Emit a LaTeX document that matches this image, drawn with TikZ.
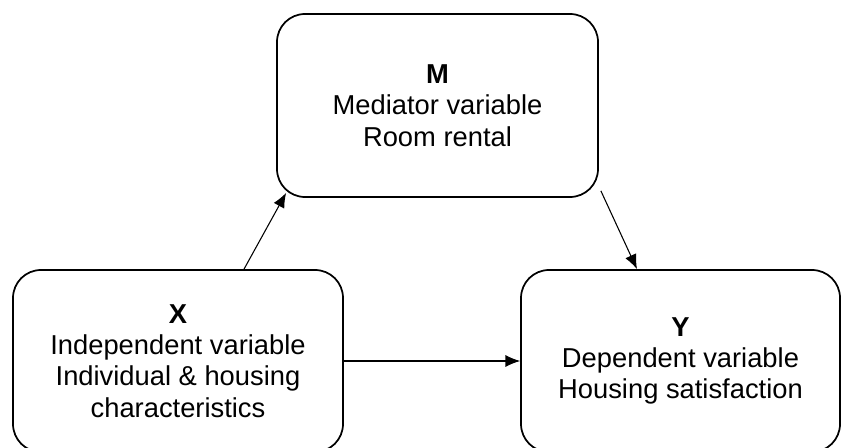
\documentclass[tikz,border=0pt]{standalone}
\usepackage{fontspec}
\setmainfont{Liberation Sans}
\usetikzlibrary{arrows.meta}
\begin{document}
\begin{tikzpicture}[x=0.75pt, y=-0.75pt,
    varbox/.style={draw, line width=1.3pt, rounded corners=21pt, align=center,
      inner sep=0pt, font=\fontsize{20.5}{23.5}\selectfont},
    effect/.style={-{Latex[length=11pt,width=9pt]}, line width=0.8pt}]
  \useasboundingbox (0,0) rectangle (842,448);

  \node [varbox, minimum width=240.75pt, minimum height=137.25pt] (M) at (437.5,105.5)
    {\textbf{M}\\Mediator variable\\Room rental};
  \node [varbox, minimum width=247.5pt, minimum height=136.5pt] (X) at (178,361)
    {\textbf{X}\\Independent variable\\Individual \& housing\\characteristics};
  \node [varbox, minimum width=239.25pt, minimum height=136.5pt] (Y) at (680.5,361)
    {\textbf{Y}\\Dependent variable\\Housing satisfaction};

  \draw [effect] ([shift={(66,0)}]X.north) -- ([shift={(10,-5)}]M.south west);
  \draw [effect] ([shift={(2,-7)}]M.south east) -- ([shift={(-43.5,0)}]Y.north);
  \draw [effect] (X.east) -- (Y.west);
\end{tikzpicture}
\end{document}
